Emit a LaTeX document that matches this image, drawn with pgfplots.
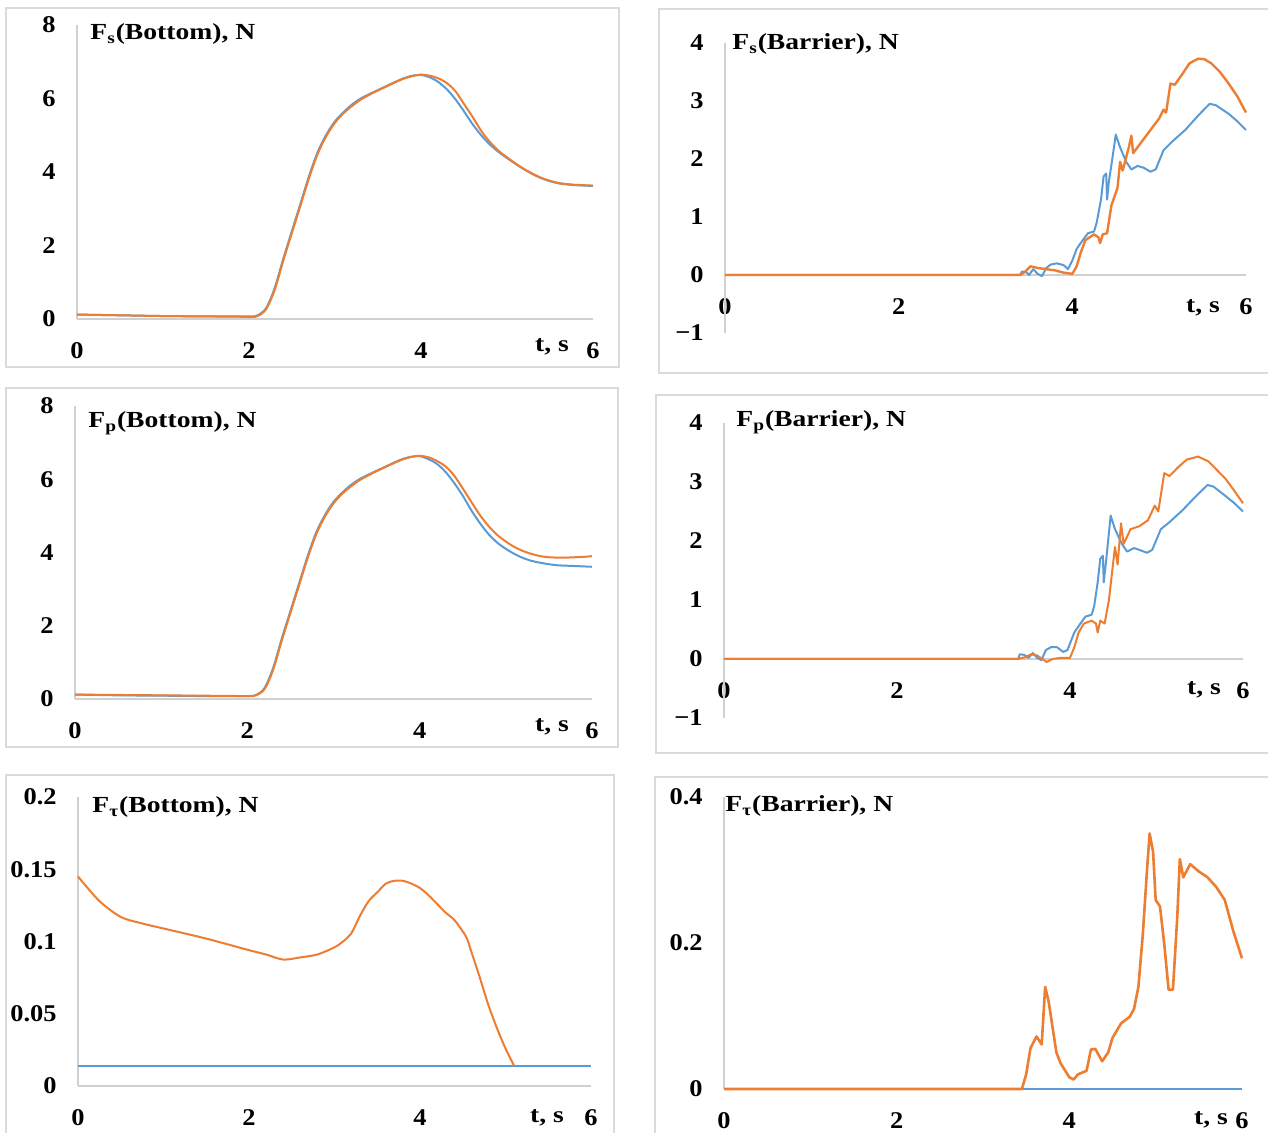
\documentclass[border=0pt]{standalone}
\usepackage{fontspec}
\setmainfont{Liberation Serif}[FakeStretch=1.1]
\newfontfamily\tfam{Liberation Serif}[FakeStretch=1.2]
\usepackage{pgfplots}
\pgfplotsset{compat=1.18}
\definecolor{cblue}{HTML}{5B9BD5}
\definecolor{corange}{HTML}{ED7D31}
\definecolor{agray}{HTML}{D0D0D0}
\definecolor{fgray}{HTML}{DADADA}
\newcommand{\tfont}{\tfam\fontsize{11.5}{13}\selectfont\bfseries}
\pgfplotsset{panel/.style={
  scale only axis, xmin=0, xmax=6, clip=false, anchor=south west,
  axis line style={draw=none}, major tick length=0pt,
  xtick={0,2,4,6}, xticklabels={0,2,4,6},
  tick label style={font=\fontsize{12}{13}\selectfont\bfseries},
  xticklabel style={anchor=base, inner sep=0pt, yshift=-19.75pt},
  yticklabel style={anchor=east, inner sep=0pt, xshift=-10.5pt},
  /pgf/number format/assume math mode=true,
  every axis plot/.append style={line width=1pt, line join=round},
}}
\begin{document}
\begin{tikzpicture}
\path[use as bounding box] (0pt,0pt) rectangle (634pt,566.5pt);
% frames
\draw[fgray, line width=0.6pt] (3pt,383pt) rectangle (309.5pt,562.5pt);
\draw[fgray, line width=0.6pt] (329.5pt,380pt) rectangle (640pt,562pt);
\draw[fgray, line width=0.6pt] (3pt,193pt) rectangle (309pt,372.5pt);
\draw[fgray, line width=0.6pt] (328pt,190pt) rectangle (640pt,369pt);
\draw[fgray, line width=0.6pt] (3pt,-5pt) rectangle (307pt,179pt);
\draw[fgray, line width=0.6pt] (327.5pt,-5pt) rectangle (640pt,178pt);

% ---------- Panel 1: Fs Bottom ----------
\begin{axis}[panel, at={(38.5pt,407pt)}, width=258pt, height=147pt, ymin=0, ymax=8,
  ytick={0,2,4,6,8}, yticklabels={0,2,4,6,8}]
\draw[agray, line width=0.6pt] (axis cs:0,0) -- (axis cs:6,0);
\draw[agray, line width=0.6pt] (axis cs:0,0) -- (axis cs:0,8);
\addplot[cblue, smooth] coordinates {(0,0.12)(0.5,0.1)(1,0.08)(1.5,0.07)(2,0.07)(2.1,0.1)(2.2,0.3)(2.3,0.85)(2.4,1.65)(2.5,2.4)(2.6,3.15)(2.7,3.9)(2.8,4.55)(2.9,5.02)(3.0,5.38)(3.1,5.63)(3.2,5.84)(3.3,6.0)(3.4,6.12)(3.5,6.23)(3.6,6.34)(3.7,6.45)(3.8,6.55)(3.9,6.62)(4.0,6.64)(4.1,6.58)(4.2,6.45)(4.3,6.25)(4.4,5.98)(4.5,5.65)(4.6,5.3)(4.7,5.0)(4.8,4.75)(4.9,4.55)(5.0,4.38)(5.1,4.22)(5.2,4.07)(5.3,3.94)(5.4,3.83)(5.5,3.75)(5.6,3.69)(5.7,3.66)(5.8,3.64)(5.9,3.63)(6.0,3.62)};
\addplot[corange, smooth] coordinates {(0,0.12)(0.5,0.1)(1,0.08)(1.5,0.07)(2,0.06)(2.1,0.08)(2.2,0.27)(2.3,0.8)(2.4,1.6)(2.5,2.35)(2.6,3.1)(2.7,3.85)(2.8,4.5)(2.9,4.98)(3.0,5.34)(3.1,5.6)(3.2,5.8)(3.3,5.97)(3.4,6.1)(3.5,6.22)(3.6,6.33)(3.7,6.44)(3.8,6.54)(3.9,6.61)(4.0,6.65)(4.1,6.62)(4.2,6.55)(4.3,6.42)(4.4,6.2)(4.5,5.85)(4.6,5.5)(4.7,5.12)(4.8,4.82)(4.9,4.58)(5.0,4.4)(5.1,4.23)(5.2,4.08)(5.3,3.95)(5.4,3.84)(5.5,3.76)(5.6,3.7)(5.7,3.67)(5.8,3.65)(5.9,3.64)(6.0,3.63)};
\end{axis}

% ---------- Panel 2: Fs Barrier ----------
\begin{axis}[panel, at={(362.5pt,400pt)}, width=260.5pt, height=145pt, ymin=-1, ymax=4,
  ytick={-1,0,1,2,3,4}, yticklabels={−1,0,1,2,3,4},
  xticklabel style={yshift=29pt}]
\draw[agray, line width=0.6pt] (axis cs:0,0) -- (axis cs:6,0);
\draw[agray, line width=0.6pt] (axis cs:0,-1) -- (axis cs:0,4);
\addplot[cblue] coordinates {(0,0)(3.4,0)(3.42,0.06)(3.47,0.05)(3.5,0.0)(3.55,0.1)(3.6,0.02)(3.65,-0.02)(3.7,0.12)(3.75,0.18)(3.82,0.2)(3.9,0.17)(3.95,0.1)(4.0,0.25)(4.05,0.45)(4.12,0.6)(4.18,0.72)(4.25,0.75)(4.28,0.9)(4.33,1.3)(4.36,1.7)(4.39,1.75)(4.4,1.3)(4.42,1.6)(4.46,2.0)(4.5,2.42)(4.55,2.2)(4.62,1.95)(4.68,1.82)(4.75,1.88)(4.82,1.85)(4.9,1.78)(4.96,1.82)(5.05,2.15)(5.15,2.3)(5.3,2.5)(5.45,2.75)(5.58,2.95)(5.65,2.93)(5.8,2.78)(5.9,2.65)(6.0,2.5)};
\addplot[corange, line width=1.2pt] coordinates {(0,0)(3.4,0)(3.45,0.05)(3.52,0.15)(3.6,0.12)(3.7,0.1)(3.8,0.08)(3.9,0.04)(4.0,0.02)(4.05,0.15)(4.1,0.4)(4.15,0.6)(4.25,0.7)(4.3,0.65)(4.32,0.55)(4.35,0.7)(4.4,0.72)(4.45,1.2)(4.52,1.5)(4.55,1.95)(4.58,1.8)(4.65,2.2)(4.68,2.4)(4.7,2.1)(4.8,2.3)(4.9,2.5)(5.0,2.7)(5.05,2.85)(5.08,2.8)(5.13,3.3)(5.18,3.28)(5.26,3.45)(5.35,3.65)(5.45,3.73)(5.52,3.72)(5.6,3.65)(5.7,3.5)(5.8,3.3)(5.9,3.08)(6.0,2.8)};
\end{axis}

% ---------- Panel 3: Fp Bottom ----------
\begin{axis}[panel, at={(37.5pt,217pt)}, width=258.5pt, height=146.5pt, ymin=0, ymax=8,
  ytick={0,2,4,6,8}, yticklabels={0,2,4,6,8}]
\draw[agray, line width=0.6pt] (axis cs:0,0) -- (axis cs:6,0);
\draw[agray, line width=0.6pt] (axis cs:0,0) -- (axis cs:0,8);
\addplot[cblue, smooth] coordinates {(0,0.12)(0.5,0.1)(1,0.09)(1.5,0.08)(2,0.08)(2.1,0.11)(2.2,0.3)(2.3,0.85)(2.4,1.65)(2.5,2.4)(2.6,3.15)(2.7,3.9)(2.8,4.55)(2.9,5.02)(3.0,5.38)(3.1,5.63)(3.2,5.84)(3.3,6.0)(3.4,6.12)(3.5,6.23)(3.6,6.34)(3.7,6.45)(3.8,6.55)(3.9,6.61)(4.0,6.63)(4.1,6.55)(4.2,6.42)(4.3,6.2)(4.4,5.9)(4.5,5.55)(4.6,5.15)(4.7,4.8)(4.8,4.5)(4.9,4.27)(5.0,4.1)(5.1,3.96)(5.2,3.85)(5.3,3.77)(5.4,3.72)(5.5,3.68)(5.6,3.65)(5.7,3.64)(5.8,3.63)(5.9,3.62)(6.0,3.61)};
\addplot[corange, smooth] coordinates {(0,0.12)(0.5,0.11)(1,0.1)(1.5,0.09)(2,0.08)(2.1,0.1)(2.2,0.27)(2.3,0.8)(2.4,1.6)(2.5,2.35)(2.6,3.1)(2.7,3.85)(2.8,4.5)(2.9,4.98)(3.0,5.34)(3.1,5.6)(3.2,5.8)(3.3,5.97)(3.4,6.1)(3.5,6.22)(3.6,6.33)(3.7,6.44)(3.8,6.54)(3.9,6.61)(4.0,6.64)(4.1,6.6)(4.2,6.5)(4.3,6.35)(4.4,6.1)(4.5,5.75)(4.6,5.38)(4.7,5.02)(4.8,4.72)(4.9,4.48)(5.0,4.3)(5.1,4.15)(5.2,4.04)(5.3,3.96)(5.4,3.9)(5.5,3.87)(5.6,3.86)(5.7,3.86)(5.8,3.87)(5.9,3.88)(6.0,3.9)};
\end{axis}

% ---------- Panel 4: Fp Barrier ----------
\begin{axis}[panel, at={(362pt,207.5pt)}, width=259.5pt, height=147.5pt, ymin=-1, ymax=4,
  ytick={-1,0,1,2,3,4}, yticklabels={−1,0,1,2,3,4},
  xticklabel style={yshift=29.5pt}]
\draw[agray, line width=0.6pt] (axis cs:0,0) -- (axis cs:6,0);
\draw[agray, line width=0.6pt] (axis cs:0,-1) -- (axis cs:0,4);
\addplot[cblue] coordinates {(0,0)(3.4,0)(3.42,0.08)(3.47,0.07)(3.52,0.02)(3.57,0.1)(3.62,0.02)(3.67,-0.02)(3.72,0.15)(3.78,0.2)(3.85,0.2)(3.92,0.12)(3.97,0.15)(4.05,0.45)(4.12,0.6)(4.18,0.72)(4.25,0.75)(4.28,0.9)(4.32,1.3)(4.35,1.7)(4.38,1.75)(4.39,1.3)(4.42,1.7)(4.47,2.43)(4.52,2.2)(4.6,1.95)(4.66,1.82)(4.74,1.88)(4.8,1.85)(4.89,1.8)(4.95,1.85)(5.05,2.2)(5.15,2.32)(5.3,2.52)(5.45,2.75)(5.59,2.95)(5.66,2.92)(5.8,2.76)(5.9,2.64)(6.0,2.5)};
\addplot[corange] coordinates {(0,0)(3.4,0)(3.48,0.03)(3.55,0.08)(3.62,0.06)(3.68,0.0)(3.73,-0.05)(3.8,0.0)(3.9,0.02)(4.0,0.02)(4.05,0.2)(4.1,0.45)(4.16,0.6)(4.25,0.65)(4.3,0.6)(4.32,0.45)(4.35,0.65)(4.4,0.6)(4.45,1.0)(4.52,1.9)(4.55,1.6)(4.59,2.3)(4.62,1.95)(4.7,2.2)(4.8,2.25)(4.9,2.35)(4.98,2.6)(5.02,2.5)(5.09,3.15)(5.15,3.1)(5.25,3.25)(5.35,3.38)(5.48,3.43)(5.6,3.35)(5.7,3.2)(5.8,3.05)(5.9,2.85)(6.0,2.64)};
\end{axis}

% ---------- Panel 5: Ftau Bottom ----------
\begin{axis}[panel, at={(39pt,23.5pt)}, width=256.5pt, height=144.5pt, ymin=0, ymax=0.2,
  ytick={0,0.05,0.1,0.15,0.2}, yticklabels={0,0.05,0.1,0.15,0.2}]
\draw[agray, line width=0.6pt] (axis cs:0,0) -- (axis cs:6,0);
\draw[agray, line width=0.6pt] (axis cs:0,0) -- (axis cs:0,0.2);
\addplot[cblue] coordinates {(0,0.014)(6,0.014)};
\addplot[corange, smooth] coordinates {(0,0.145)(0.25,0.128)(0.5,0.117)(0.75,0.1125)(1.0,0.109)(1.5,0.102)(2.0,0.094)(2.2,0.091)(2.4,0.0875)(2.6,0.089)(2.8,0.091)(3.0,0.096)(3.1,0.1)(3.2,0.106)(3.3,0.118)(3.4,0.128)(3.5,0.134)(3.6,0.14)(3.7,0.142)(3.8,0.142)(3.9,0.14)(4.0,0.137)(4.1,0.132)(4.2,0.126)(4.3,0.12)(4.4,0.115)(4.5,0.107)(4.55,0.102)(4.6,0.093)(4.7,0.075)(4.8,0.056)(4.9,0.04)(5.0,0.026)(5.1,0.014)};
\end{axis}

% ---------- Panel 6: Ftau Barrier ----------
\begin{axis}[panel, at={(362pt,22pt)}, width=259pt, height=146pt, ymin=0, ymax=0.4,
  ytick={0,0.2,0.4}, yticklabels={0,0.2,0.4}]
\draw[agray, line width=0.6pt] (axis cs:0,0) -- (axis cs:6,0);
\draw[agray, line width=0.6pt] (axis cs:0,0) -- (axis cs:0,0.4);
\addplot[cblue] coordinates {(0,0)(6,0)};
\addplot[corange, line width=1.3pt] coordinates {(0,0)(3.45,0)(3.5,0.02)(3.55,0.056)(3.62,0.072)(3.68,0.061)(3.72,0.14)(3.76,0.12)(3.8,0.089)(3.85,0.05)(3.9,0.035)(4.0,0.016)(4.05,0.013)(4.1,0.02)(4.2,0.025)(4.25,0.054)(4.3,0.055)(4.38,0.038)(4.45,0.05)(4.5,0.07)(4.6,0.09)(4.7,0.099)(4.75,0.11)(4.8,0.14)(4.85,0.21)(4.9,0.3)(4.93,0.35)(4.97,0.325)(5.0,0.259)(5.05,0.25)(5.1,0.198)(5.15,0.136)(5.2,0.136)(5.25,0.235)(5.28,0.315)(5.32,0.29)(5.4,0.308)(5.5,0.298)(5.6,0.29)(5.7,0.277)(5.8,0.259)(5.9,0.216)(6.0,0.179)};
\end{axis}

% titles
\node[anchor=base west, inner sep=0pt, font=\tfont] at (45pt,546.5pt) {F\textsubscript{s}(Bottom), N};
\node[anchor=base west, inner sep=0pt, font=\tfont] at (366pt,541.5pt) {F\textsubscript{s}(Barrier), N};
\node[anchor=base west, inner sep=0pt, font=\tfont] at (44pt,352.5pt) {F\textsubscript{p}(Bottom), N};
\node[anchor=base west, inner sep=0pt, font=\tfont] at (368pt,353pt) {F\textsubscript{p}(Barrier), N};
\node[anchor=base west, inner sep=0pt, font=\tfont] at (46pt,160pt) {F\textsubscript{τ}(Bottom), N};
\node[anchor=base west, inner sep=0pt, font=\tfont] at (362.5pt,160.5pt) {F\textsubscript{τ}(Barrier), N};
% axis unit labels
\node[anchor=base, inner sep=0pt, font=\tfont] at (276pt,390.5pt) {t, s};
\node[anchor=base, inner sep=0pt, font=\tfont] at (601.5pt,410pt) {t, s};
\node[anchor=base, inner sep=0pt, font=\tfont] at (276pt,200.5pt) {t, s};
\node[anchor=base, inner sep=0pt, font=\tfont] at (602pt,219pt) {t, s};
\node[anchor=base, inner sep=0pt, font=\tfont] at (273.5pt,5pt) {t, s};
\node[anchor=base, inner sep=0pt, font=\tfont] at (605.5pt,4pt) {t, s};
\end{tikzpicture}
\end{document}
